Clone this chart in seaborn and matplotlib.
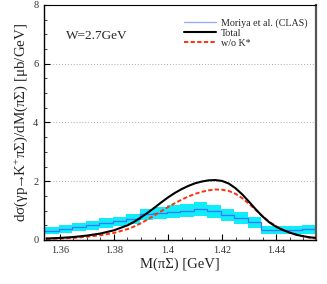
import matplotlib
matplotlib.use("Agg")
import matplotlib.pyplot as plt
import seaborn as sns
import numpy as np
import pandas as pd
from matplotlib.ticker import MultipleLocator

# ---- data ----
bin_lo = [1.3545, 1.3595, 1.3645, 1.3695, 1.3745, 1.3795, 1.3845, 1.3895, 1.3945, 1.3995,
          1.4045, 1.4095, 1.4145, 1.4195, 1.4245, 1.4295, 1.4345, 1.4395, 1.4445, 1.4495]
bin_hi_last = 1.4545
clas_vals = [0.32, 0.38, 0.45, 0.50, 0.58, 0.63, 0.70, 0.87, 0.91, 0.96,
             1.00, 1.05, 0.97, 0.86, 0.76, 0.60, 0.33, 0.33, 0.34, 0.36]
clas_err = [0.13, 0.14, 0.14, 0.15, 0.16, 0.16, 0.17, 0.19, 0.20, 0.22,
            0.23, 0.24, 0.23, 0.21, 0.20, 0.18, 0.13, 0.13, 0.14, 0.15]

mass = [1.355, 1.36, 1.365, 1.37, 1.375, 1.38, 1.385, 1.3875, 1.39, 1.3925, 1.395, 1.3975,
        1.40, 1.4025, 1.405, 1.4075, 1.41, 1.4125, 1.415, 1.4175, 1.42, 1.4225, 1.425,
        1.4275, 1.43, 1.4325, 1.435, 1.4375, 1.44, 1.4425, 1.445, 1.4475, 1.45, 1.4525, 1.455]
total = [0.05, 0.07, 0.10, 0.15, 0.22, 0.33, 0.50, 0.62, 0.77, 0.93, 1.10, 1.28,
         1.45, 1.60, 1.73, 1.84, 1.93, 1.99, 2.03, 2.04, 2.01, 1.92, 1.76,
         1.55, 1.30, 1.04, 0.80, 0.60, 0.45, 0.34, 0.25, 0.18, 0.13, 0.09, 0.07]
wo_kstar = [0.03, 0.05, 0.07, 0.11, 0.16, 0.24, 0.37, 0.46, 0.57, 0.70, 0.84, 0.98,
            1.12, 1.25, 1.37, 1.48, 1.57, 1.64, 1.69, 1.72, 1.71, 1.67, 1.57,
            1.42, 1.23, 1.02, 0.81, 0.62, 0.47, 0.35, 0.26, 0.18, 0.12, 0.08, 0.05]

x_ticks = [1.36, 1.38, 1.40, 1.42, 1.44]
x_tick_labels = ["1.36", "1.38", "1.4", "1.42", "1.44"]
y_ticks = [0, 2, 4, 6, 8]

sns.set_theme(style="ticks")
plt.rcParams['font.family'] = ['Liberation Serif', 'DejaVu Serif']
plt.rcParams['mathtext.fontset'] = 'custom'
plt.rcParams['mathtext.rm'] = 'Liberation Serif'
plt.rcParams['mathtext.it'] = 'Liberation Serif:italic'

fig = plt.figure(figsize=(3.27, 2.84), dpi=100)
ax = fig.add_axes([0.1346, 0.155, 0.832, 0.8274])

# CLAS band (step)
sx = np.array(bin_lo + [bin_hi_last])
sv = np.array(clas_vals + [clas_vals[-1]])
se = np.array(clas_err + [clas_err[-1]])
ax.fill_between(sx, sv - se, sv + se, step='post', color='#10ecfa', lw=0, zorder=1)
df_clas = pd.DataFrame({'x': sx, 'y': sv})
sns.lineplot(data=df_clas, x='x', y='y', ax=ax, drawstyle='steps-post',
             color='#3a74ff', lw=0.9, label='Moriya et al. (CLAS)', zorder=2)

df_c = pd.DataFrame({'x': mass, 'total': total, 'wo': wo_kstar})
sns.lineplot(data=df_c, x='x', y='total', ax=ax, color='black', lw=1.5,
             label='Total', zorder=4)
sns.lineplot(data=df_c, x='x', y='wo', ax=ax, color='#ff3010', lw=1.4,
             label='w/o K*', zorder=3)
ax.lines[-1].set_linestyle((0, (2.2, 1.2)))

ax.set_xlim(1.3541, 1.4548)
ax.set_ylim(0, 8)
ax.set_xticks(x_ticks)
ax.set_xticklabels(x_tick_labels)
ax.set_yticks(y_ticks)
ax.xaxis.set_minor_locator(MultipleLocator(0.005))
ax.yaxis.set_minor_locator(MultipleLocator(0.5))
ax.tick_params(axis='both', which='major', direction='in', length=4, width=0.8,
               labelsize=7.5, top=False, right=False, pad=4, colors='black')
ax.tick_params(axis='both', which='minor', direction='in', length=2, width=0.6,
               top=False, right=False)
ax.set_yticklabels([str(t) for t in y_ticks], color='#333333')
for lab in ax.get_xticklabels():
    lab.set_color('#333333')

for t in [2, 4, 6]:
    ax.axhline(t, color='#aaaaaa', lw=0.7, ls=(0, (1, 2)), zorder=0)

ax.set_xlabel('M(πΣ) [GeV]', fontsize=10.5, labelpad=2)
ax.set_ylabel(r'dσ(γp$\!\!\rightarrow\!\!$K$^{+}$πΣ)/dM(πΣ) [μb/GeV]', fontsize=10.8, labelpad=2)

for s in ['left', 'bottom', 'top']:
    ax.spines[s].set_color('black')
    ax.spines[s].set_linewidth(1.0)
ax.spines['right'].set_color('#555555')
ax.spines['right'].set_linewidth(1.6)
ax.spines['top'].set_linewidth(0.8)

ax.text(0.08, 0.87, 'W=2.7GeV', transform=ax.transAxes, fontsize=9.5, va='center')

leg = ax.legend(loc='upper right', bbox_to_anchor=(0.99, 0.97), frameon=False,
                fontsize=7.2, handlelength=3.2, handletextpad=0.5, labelspacing=0.1,
                borderaxespad=0.2)
leg.get_lines()[0].set_color('#8faaff')

fig.savefig('out.png', dpi=100)
